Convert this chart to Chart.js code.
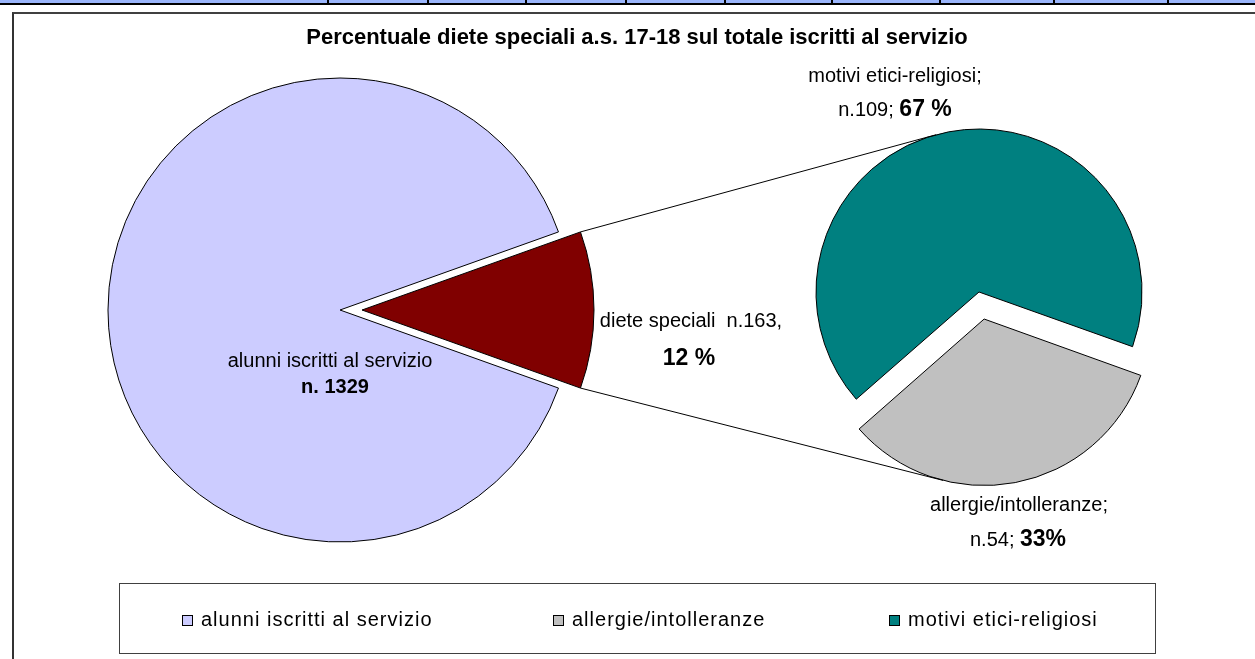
<!DOCTYPE html>
<html>
<head>
<meta charset="utf-8">
<script src="https://cdn.jsdelivr.net/npm/chart.js@4"></script>
<style>
  html, body { margin: 0; padding: 0; background: #fff; }
  #page { position: relative; width: 1255px; height: 659px; overflow: hidden; background: #fff;
          font-family: "Liberation Sans", Arial, sans-serif; color: #000; }
  .abs { position: absolute; }
  .lbl { position: absolute; white-space: pre; font-size: 20px; line-height: 24px; transform: translateX(-50%); }
  .big { font-weight: bold; font-size: 23px; }
  .leg { position: absolute; font-size: 20px; line-height: 24px; letter-spacing: 1px; white-space: pre; }
  .sq { position: absolute; width: 9px; height: 9px; border: 1px solid #000; }
</style>
</head>
<body>
<div id="page">
  <div id="strip"></div>
  <div class="abs" style="left:12px; top:12px; width:1300px; height:700px; border-left:2px solid #333; border-top:2px solid #404040;"></div>

  <!-- main pie: big slice on one canvas, exploded small slice on a second canvas moved right -->
  <canvas id="mainPie" class="abs" width="540" height="540" style="left:70px; top:40px;"></canvas>
  <canvas id="redPie" class="abs" width="540" height="540" style="left:92px; top:40px;"></canvas>
  <canvas id="subPie" class="abs" width="400" height="400" style="left:779px; top:92px;"></canvas>
  <canvas id="lines" class="abs" width="1255" height="659" style="left:0; top:0; pointer-events:none;"></canvas>

  <div class="lbl" style="left:637px; top:25px; font-weight:bold; font-size:22px;">Percentuale diete speciali a.s. 17-18 sul totale iscritti al servizio</div>

  <div class="lbl" style="left:895px; top:63px;" id="lblMotivi1"></div>
  <div class="lbl" style="left:895px; top:96px;" id="lblMotivi2"></div>
  <div class="lbl" style="left:691px; top:308px;" id="lblDiete1"></div>
  <div class="lbl" style="left:689px; top:345px;" id="lblDiete2"></div>
  <div class="lbl" style="left:330px; top:348px;" id="lblAlunni1"></div>
  <div class="lbl" style="left:335px; top:374px; font-weight:bold;" id="lblAlunni2"></div>
  <div class="lbl" style="left:1019px; top:492px;" id="lblAllergie1"></div>
  <div class="lbl" style="left:1018px; top:526px;" id="lblAllergie2"></div>

  <div class="abs" style="left:119px; top:583px; width:1035px; height:69px; border:1px solid #404040;"></div>
  <div id="legend"></div>
</div>

<script>
// ─── DATA ──────────────────────────────────────────────────────
const mainLabels = ["alunni iscritti al servizio", "diete speciali"];
const mainValues = [1329, 163];
const mainColors = ["#CCCCFF", "#800000"];

const subLabels = ["allergie/intolleranze", "motivi etici-religiosi"];
const subValues = [54, 109];
const subColors = ["#C0C0C0", "#008080"];

const legendLabels = ["alunni iscritti al servizio", "allergie/intolleranze", "motivi etici-religiosi"];
const legendColors = ["#CCCCFF", "#C0C0C0", "#008080"];

// spreadsheet row above the chart
const cellEdges = [328, 428, 526, 626, 725, 832, 940, 1054, 1168];

Chart.defaults.font.family = '"Liberation Sans", Arial, sans-serif';

// ─── TOP STRIP ─────────────────────────────────────────────────
const strip = document.getElementById("strip");
strip.innerHTML =
  '<div class="abs" style="left:0;top:0;width:1255px;height:3px;background:#9ab5fb"></div>' +
  '<div class="abs" style="left:0;top:3px;width:1255px;height:2px;background:#000"></div>' +
  cellEdges.map((x) => `<div class="abs" style="left:${x - 1}px;top:0;width:2px;height:4px;background:#000"></div>`).join("");

// ─── LABELS ────────────────────────────────────────────────────
const pct = (a, b) => Math.round((a / b) * 100);
document.getElementById("lblMotivi1").textContent = subLabels[1] + ";";
document.getElementById("lblMotivi2").innerHTML = `n.${subValues[1]}; <span class="big">${pct(subValues[1], mainValues[1])} %</span>`;
document.getElementById("lblDiete1").textContent = `${mainLabels[1]}  n.${mainValues[1]},`;
document.getElementById("lblDiete2").innerHTML = `<span class="big">${pct(mainValues[1], mainValues[0])} %</span>`;
document.getElementById("lblAlunni1").textContent = mainLabels[0];
document.getElementById("lblAlunni2").textContent = `n. ${mainValues[0]}`;
document.getElementById("lblAllergie1").textContent = subLabels[0] + ";";
document.getElementById("lblAllergie2").innerHTML = `n.${subValues[0]}; <span class="big">${pct(subValues[0], mainValues[1])}%</span>`;

// ─── LEGEND ────────────────────────────────────────────────────
const legendX = [182, 553, 889];
document.getElementById("legend").innerHTML = legendLabels.map((l, i) =>
  `<div class="sq" style="left:${legendX[i]}px; top:615px; background:${legendColors[i]}"></div>` +
  `<div class="leg" style="left:${legendX[i] + 19}px; top:607px;">${l}</div>`
).join("");

// ─── PIES ──────────────────────────────────────────────────────
const mainTotal = mainValues.reduce((s, v) => s + v, 0);
const mainRotation = 90 + (mainValues[1] / mainTotal) * 180; // small slice centred on the right

const pieOpts = (radius, rotation) => ({
  responsive: false,
  animation: false,
  devicePixelRatio: 1,
  radius,
  rotation,
  layout: { padding: 0 },
  plugins: { legend: { display: false }, tooltip: { enabled: false }, title: { display: false } },
});

// only slice `show` is painted, the other one stays transparent
function mainPie(canvasId, show) {
  return new Chart(document.getElementById(canvasId), {
    type: "pie",
    data: {
      labels: mainLabels,
      datasets: [{
        data: mainValues,
        backgroundColor: mainColors.map((c, i) => (i === show ? c : "rgba(0,0,0,0)")),
        borderColor: mainColors.map((c, i) => (i === show ? "#000" : "rgba(0,0,0,0)")),
        borderWidth: 1,
      }],
    },
    options: pieOpts(232, mainRotation),
  });
}

const mainChart = mainPie("mainPie", 0);
const redChart = mainPie("redPie", 1);

const subChart = new Chart(document.getElementById("subPie"), {
  type: "pie",
  data: {
    labels: subLabels,
    datasets: [{
      data: subValues,
      backgroundColor: subColors,
      borderColor: "#000",
      borderWidth: 1,
      offset: [110, 0],
    }],
  },
  options: pieOpts(163, 109.6),
});

// ─── CONNECTOR LINES ───────────────────────────────────────────
function arcGeom(chart, i) {
  const a = chart.getDatasetMeta(0).data[i];
  const off = (a.options.offset || 0) / 4;
  const mid = (a.startAngle + a.endAngle) / 2;
  const circ = a.endAngle - a.startAngle;
  const fix = 1 - Math.sin(Math.min(Math.PI, circ));
  const left = parseFloat(chart.canvas.style.left);
  const top = parseFloat(chart.canvas.style.top);
  return {
    cx: left + a.x + Math.cos(mid) * off,
    cy: top + a.y + Math.sin(mid) * off,
    r: a.outerRadius + off * fix,
    start: a.startAngle,
    end: a.endAngle,
  };
}

function tangent(px, py, c, side) {
  const dx = px - c.cx, dy = py - c.cy;
  const d = Math.hypot(dx, dy);
  const ang = Math.atan2(dy, dx) + side * Math.acos(c.r / d);
  return [c.cx + c.r * Math.cos(ang), c.cy + c.r * Math.sin(ang)];
}

const red = arcGeom(redChart, 1);
const gray = arcGeom(subChart, 0);
const teal = arcGeom(subChart, 1);

const p1 = [red.cx + red.r * Math.cos(red.start), red.cy + red.r * Math.sin(red.start)];
const p2 = [red.cx + red.r * Math.cos(red.end), red.cy + red.r * Math.sin(red.end)];
const t1 = tangent(p1[0], p1[1], teal, 1);
const t2 = tangent(p2[0], p2[1], gray, -1);

const ctx = document.getElementById("lines").getContext("2d");
ctx.strokeStyle = "#000";
ctx.lineWidth = 1;
ctx.beginPath();
ctx.moveTo(p1[0], p1[1]);
ctx.lineTo(t1[0], t1[1]);
ctx.moveTo(p2[0], p2[1]);
ctx.lineTo(t2[0], t2[1]);
ctx.stroke();
</script>
</body>
</html>
